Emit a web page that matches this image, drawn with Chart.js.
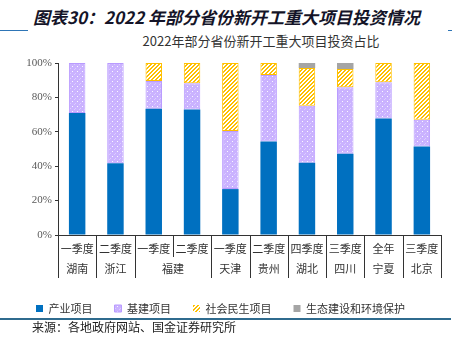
<!DOCTYPE html>
<html>
<head>
<meta charset="utf-8">
<script src="https://cdn.jsdelivr.net/npm/chart.js@4.4.0/dist/chart.umd.min.js"></script>
<style>
    html, body { margin: 0; padding: 0; background: #fff; }
    #page { position: relative; width: 467px; height: 343px; overflow: hidden; font-family: 'Noto Sans CJK SC', sans-serif; }
    #heading { position: absolute; left: 33px; top: 4px; font-size: 17px; font-weight: bold; font-style: italic; color: #141428; white-space: nowrap; }
    #rule-left { position: absolute; left: 0; top: 30px; width: 28px; height: 1px; background: #2E75B6; }
    #rule-right { position: absolute; left: 448px; top: 30px; width: 4px; height: 1px; background: #2E75B6; }
    #subtitle { position: absolute; left: 261px; top: 31px; transform: translateX(-50%); font-size: 13px; color: #333; white-space: nowrap; }
    #chart-box { position: absolute; left: 0; top: 50px; width: 467px; height: 282px; }
    #rule-bottom { position: absolute; left: 0; top: 318px; width: 451px; height: 2px; background: #2F6B8E; }
    #source { position: absolute; left: 32px; top: 318px; font-size: 12px; color: #222; white-space: nowrap; }
</style>
</head>
<body>
<div id="page">
    <div id="heading">图表30：2022 年部分省份新开工重大项目投资情况</div>
    <div id="rule-left"></div>
    <div id="rule-right"></div>
    <div id="subtitle">2022年部分省份新开工重大项目投资占比</div>
    <div id="chart-box"><canvas id="investChart"></canvas></div>
    <div id="rule-bottom"></div>
    <div id="source">来源：各地政府网站、国金证券研究所</div>
</div>
<script>
// --- data (share of investment, %) ---
const quarters = ['一季度', '二季度', '一季度', '二季度', '一季度', '二季度', '四季度', '三季度', '全年', '三季度'];
const provinces = [['湖南', 1], ['浙江', 1], ['福建', 2], ['天津', 1], ['贵州', 1], ['湖北', 1], ['四川', 1], ['宁夏', 1], ['北京', 1]];
const industryShare = [70.9, 41.7, 73.4, 72.9, 26.7, 54.3, 42.0, 47.3, 67.8, 51.4];
const infraShare = [29.1, 58.3, 16.1, 15.3, 33.8, 38.7, 33.2, 38.6, 21.0, 15.6];
const socialShare = [0, 0, 10.5, 11.8, 39.5, 7.0, 21.9, 10.6, 11.2, 33.0];
const ecoShare = [0, 0, 0, 0, 0, 0, 2.9, 3.5, 0, 0];
const yTicks = [0, 20, 40, 60, 80, 100];

const FONT_CN = "'Noto Sans CJK SC', sans-serif";
const AXIS_COLOR = '#333333';

// lavender fill with small white dots
function dotPattern() {
    const c = document.createElement('canvas');
    c.width = 5; c.height = 5;
    const g = c.getContext('2d');
    g.fillStyle = '#CAB2FF';
    g.fillRect(0, 0, 5, 5);
    g.fillStyle = 'rgba(255,255,255,0.9)';
    g.fillRect(2, 1, 1, 1);
    g.fillStyle = 'rgba(255,255,255,0.35)';
    g.fillRect(0, 3, 1, 1);
    g.fillRect(4, 4, 1, 1);
    return g.createPattern(c, 'repeat');
}

// yellow "/" hatch on white
function hatchPattern() {
    const c = document.createElement('canvas');
    c.width = 4; c.height = 4;
    const g = c.getContext('2d');
    g.fillStyle = '#ffffff';
    g.fillRect(0, 0, 4, 4);
    g.fillStyle = '#FFC000';
    for (let x = 0; x < 4; x++) {
        for (let y = 0; y < 4; y++) {
            if ((x + y) % 4 < 2) g.fillRect(x, y, 1, 1);
        }
    }
    return g.createPattern(c, 'repeat');
}

const edge = ctx => (ctx.raw ? 1 : 0);

// province row under the quarter labels, with dividers
const groupAxisPlugin = {
    id: 'groupAxis',
    afterDraw(chart) {
        const x = chart.scales.x;
        const ctx = chart.ctx;
        const base = chart.chartArea.bottom;
        const half = (x.getPixelForValue(1) - x.getPixelForValue(0)) / 2;
        ctx.save();
        ctx.strokeStyle = AXIS_COLOR;
        ctx.lineWidth = 1;
        ctx.fillStyle = '#333';
        ctx.font = '11px ' + FONT_CN;
        ctx.textAlign = 'center';
        ctx.textBaseline = 'middle';

        const line = (px, len) => {
            const p = Math.round(px) + 0.5;
            ctx.beginPath();
            ctx.moveTo(p, base);
            ctx.lineTo(p, base + len);
            ctx.stroke();
        };

        let idx = 0;
        line(x.getPixelForValue(0) - half, 43);
        provinces.forEach(([name, span]) => {
            const first = x.getPixelForValue(idx);
            const last = x.getPixelForValue(idx + span - 1);
            for (let k = 1; k < span; k++) {
                line(x.getPixelForValue(idx + k) - half, 22);
            }
            line(last + half, 43);
            ctx.fillText(name, (first + last) / 2, base + 34);
            idx += span;
        });
        ctx.restore();
    }
};

new Chart(document.getElementById('investChart'), {
    type: 'bar',
    data: {
        labels: quarters,
        datasets: [
            {
                label: '产业项目',
                data: industryShare,
                backgroundColor: '#0070C0',
                borderWidth: 0
            },
            {
                label: '基建项目',
                data: infraShare,
                backgroundColor: dotPattern(),
                borderColor: '#B99BFF',
                borderWidth: edge
            },
            {
                label: '社会民生项目',
                data: socialShare,
                backgroundColor: hatchPattern(),
                borderColor: '#FFC000',
                borderWidth: edge
            },
            {
                label: '生态建设和环境保护',
                data: ecoShare,
                backgroundColor: '#A5A5A5',
                borderWidth: 0
            }
        ]
    },
    options: {
        responsive: true,
        maintainAspectRatio: false,
        animation: false,
        layout: {
            padding: { top: 13, right: 26, left: 0, bottom: 8 }
        },
        datasets: {
            bar: {
                categoryPercentage: 1,
                barPercentage: 0.43,
                borderSkipped: false
            }
        },
        plugins: {
            legend: {
                position: 'bottom',
                labels: {
                    boxWidth: 7,
                    boxHeight: 7,
                    padding: 22,
                    color: '#333',
                    font: { family: FONT_CN, size: 11 }
                }
            },
            tooltip: { enabled: false }
        },
        scales: {
            x: {
                stacked: true,
                grid: { display: false, drawTicks: false },
                border: { display: true, color: AXIS_COLOR, width: 1 },
                ticks: {
                    autoSkip: false,
                    maxRotation: 0,
                    padding: 7,
                    color: '#333',
                    font: { family: FONT_CN, size: 11 }
                },
                afterFit(scale) { scale.height = 46; }
            },
            y: {
                stacked: true,
                min: 0,
                max: 100,
                afterBuildTicks(scale) { scale.ticks = yTicks.map(v => ({ value: v })); },
                grid: { drawOnChartArea: false, drawTicks: true, tickLength: 3, color: AXIS_COLOR },
                border: { display: true, color: AXIS_COLOR, width: 1 },
                ticks: {
                    padding: 3,
                    color: '#595959',
                    font: { family: "'Liberation Serif', serif", size: 11 },
                    callback: v => v + '%'
                },
                afterFit(scale) { scale.width = 58; }
            }
        }
    },
    plugins: [groupAxisPlugin]
});
</script>
</body>
</html>
